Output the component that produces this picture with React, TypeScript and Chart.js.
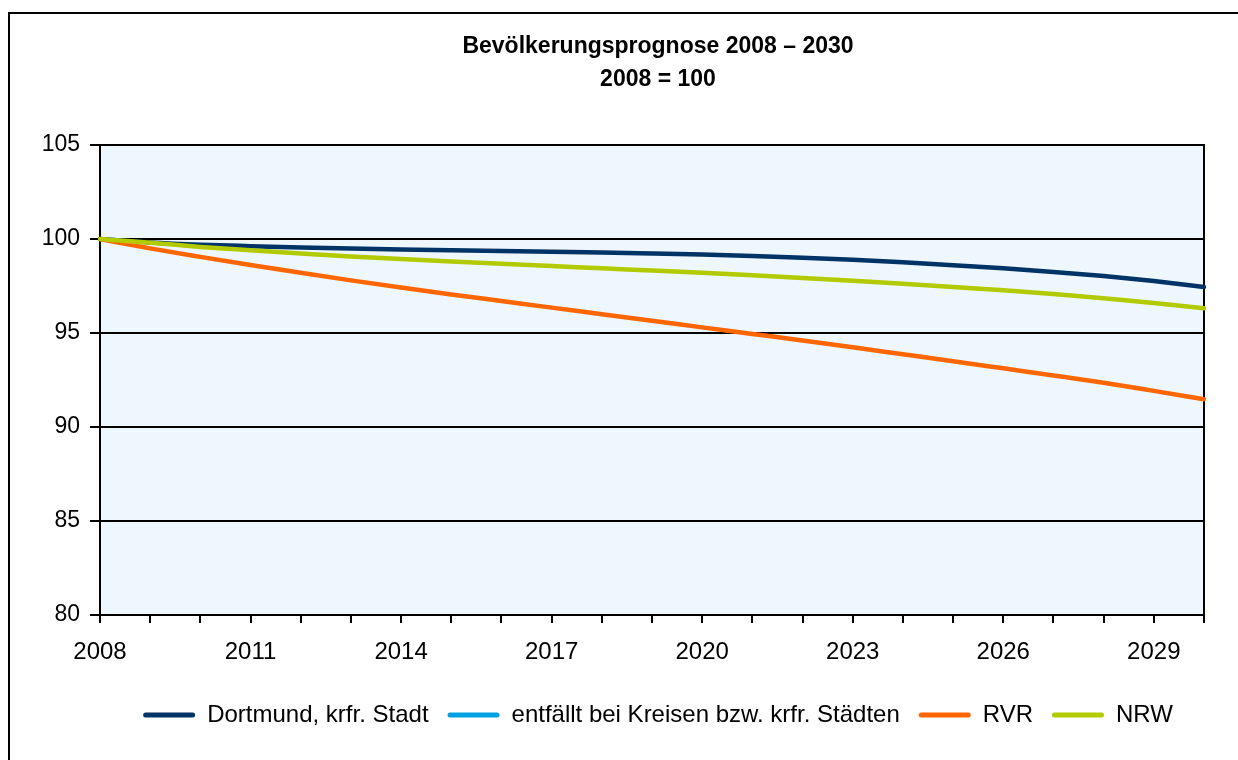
import React, { useEffect, useRef } from 'react';
import { Chart, registerables } from 'chart.js';

Chart.register(...registerables);

const years = [
  '2008', '2009', '2010', '2011', '2012', '2013', '2014', '2015', '2016', '2017', '2018', '2019',
  '2020', '2021', '2022', '2023', '2024', '2025', '2026', '2027', '2028', '2029', '2030',
];

const dortmund = [
  100, 99.82, 99.7, 99.62, 99.55, 99.49, 99.44, 99.4, 99.36, 99.32, 99.28, 99.23,
  99.17, 99.09, 99.0, 98.89, 98.76, 98.61, 98.44, 98.25, 98.03, 97.76, 97.45,
];

const entfaellt: (number | null)[] = [];

const rvr = [
  100, 99.5, 99.05, 98.62, 98.2, 97.8, 97.42, 97.05, 96.7, 96.35, 96.0, 95.65,
  95.3, 94.95, 94.6, 94.24, 93.87, 93.5, 93.12, 92.74, 92.35, 91.92, 91.48,
];

const nrw = [
  100, 99.8, 99.58, 99.4, 99.23, 99.07, 98.93, 98.8, 98.68, 98.56, 98.44, 98.32,
  98.2, 98.07, 97.93, 97.78, 97.62, 97.45, 97.27, 97.07, 96.85, 96.6, 96.32,
];

const seriesNames = [
  'Dortmund, krfr. Stadt',
  'entfällt bei Kreisen bzw. krfr. Städten',
  'RVR',
  'NRW',
];

const titleLines = ['Bevölkerungsprognose 2008 – 2030', '2008 = 100'];

const FONT = "'Liberation Sans', Arial, Helvetica, sans-serif";

export default function App() {
  const ref = useRef<HTMLCanvasElement>(null);

  useEffect(() => {
    if (!ref.current) return;
    const bgPlugin = {
      id: 'plotBg',
      beforeDraw(chart: any) {
        const { ctx, chartArea: a } = chart;
        ctx.save();
        ctx.fillStyle = '#EEF6FE';
        ctx.fillRect(a.left, a.top, a.right - a.left, a.bottom - a.top);
        ctx.restore();
      },
    };

    const mk = (label: string, data: (number | null)[], color: string, order: number) => ({
      label,
      data,
      borderColor: color,
      backgroundColor: color,
      borderWidth: 4.5,
      pointRadius: 0,
      cubicInterpolationMode: 'monotone' as const,
      fill: false,
      borderCapStyle: 'round' as const,
      order,
    });

    const chart = new Chart(ref.current, {
      type: 'line',
      data: {
        labels: years,
        datasets: [
          mk(seriesNames[0], dortmund, '#003366', 4),
          mk(seriesNames[1], entfaellt, '#00A0E3', 3),
          mk(seriesNames[2], rvr, '#FF6600', 2),
          mk(seriesNames[3], nrw, '#B2CB00', 1),
        ],
      },
      options: {
        responsive: false,
        animation: false,
        devicePixelRatio: 1,
        layout: { padding: { top: 0, left: 0, right: 0, bottom: 23 } },
        plugins: {
          tooltip: { enabled: false },
          title: {
            display: true,
            text: titleLines,
            color: '#000',
            font: { family: FONT, size: 23, weight: 'bold', lineHeight: '33px' },
            padding: { top: 30, bottom: 49 },
          },
          legend: {
            display: true,
            position: 'bottom',
            labels: {
              color: '#000',
              font: { family: FONT, size: 24 },
              boxWidth: 52,
              boxHeight: 5,
              padding: 19,
              useBorderRadius: true,
              borderRadius: 2.5,
              generateLabels: (c: any) =>
                c.data.datasets.map((ds: any, i: number) => ({
                  text: ds.label,
                  fillStyle: ds.borderColor,
                  strokeStyle: ds.borderColor,
                  lineWidth: 0,
                  hidden: false,
                  datasetIndex: i,
                  fontColor: '#000',
                  borderRadius: 2.5,
                })),
            },
          },
        },
        scales: {
          x: {
            type: 'category',
            offset: false,
            grid: {
              display: true,
              drawOnChartArea: false,
              drawTicks: true,
              tickLength: 8,
              color: '#000',
              lineWidth: 2,
            },
            border: { display: true, color: '#000', width: 2 },
            ticks: {
              autoSkip: false,
              maxRotation: 0,
              minRotation: 0,
              color: '#000',
              padding: 15,
              font: { family: FONT, size: 24 },
              callback: (_v: any, i: number) => (i % 3 === 0 ? years[i] : ''),
            },
            afterFit: (s: any) => {
              s.height = 69;
            },
          },
          y: {
            type: 'linear',
            position: 'left',
            min: 80,
            max: 105,
            grid: {
              display: true,
              color: '#000',
              lineWidth: 2,
              drawTicks: true,
              tickLength: 10,
            },
            border: { display: true, color: '#000', width: 2 },
            ticks: {
              stepSize: 5,
              color: '#000',
              padding: 10,
              font: { family: FONT, size: 23 },
            },
            afterFit: (s: any) => {
              s.width = 100;
            },
          },
          yRight: {
            type: 'linear',
            position: 'right',
            display: true,
            grid: { display: false, drawTicks: false },
            border: { display: true, color: '#000', width: 2 },
            ticks: { display: false },
            afterFit: (s: any) => {
              s.width = 112;
            },
          },
        },
      },
      plugins: [bgPlugin],
    } as any);

    return () => chart.destroy();
  }, []);

  return (
    <>
      <div
        style={{
          position: 'fixed',
          left: 8,
          top: 12,
          width: 1400,
          height: 900,
          border: '2px solid #000',
          boxSizing: 'border-box',
        }}
      />
      <canvas
        ref={ref}
        width={1316}
        height={760}
        style={{ position: 'fixed', left: 0, top: 0, width: 1316, height: 760 }}
      />
    </>
  );
}
